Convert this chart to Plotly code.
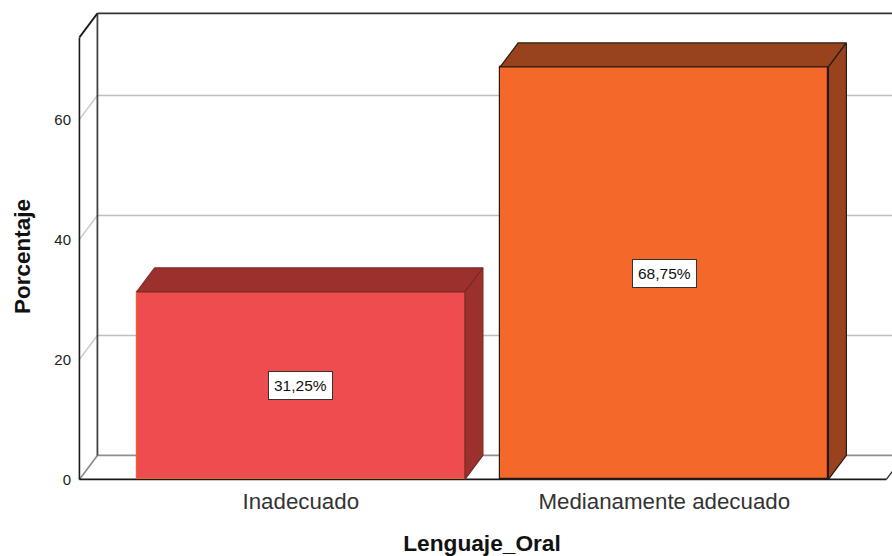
import plotly.graph_objects as go

categories = ["Inadecuado", "Medianamente adecuado"]
percentages = [31.25, 68.75]
y_ticks = [0, 20, 40, 60]
front_colors = ["#EE4C4E", "#F4682A"]
top_colors = ["#9B302D", "#98431E"]
edge_colors = ["#E8652F", "#2A1A10"]

BAR_W = 0.903
DX = 0.0495
DY = 4.0
FRONT_TOP = 73.67
RIGHT_END = 1.611
X0 = -0.609
L, R, T, B = 72, 0, 5, 70
PX_X = 363.5
ZERO_PX = 479.4
xr = [(L - 300.8) / PX_X, (892 - 300.8) / PX_X]
yr = [(ZERO_PX - (556 - B)) / 6.0, (ZERO_PX - T) / 6.0]

fig = go.Figure()


def seg(x0, y0, x1, y1, color, width):
    fig.add_shape(type="line", xref="x", yref="y", x0=x0, y0=y0, x1=x1, y1=y1,
                  line=dict(color=color, width=width), layer="below")


# gridlines on the back wall and left wall
for t in y_ticks[1:]:
    seg(X0, t, X0 + DX, t + DY, "#C8C8C8", 1.5)
    seg(X0 + DX, t + DY, xr[1] + 0.1, t + DY, "#C0C0C0", 1.5)
# floor
seg(X0, 0, X0 + DX, DY, "#8A8A8A", 1.6)
seg(X0 + DX, DY, xr[1] + 0.1, DY, "#8F8F8F", 1.8)
seg(RIGHT_END, 0, RIGHT_END + DX, DY, "#333333", 1.4)
seg(X0, 0, RIGHT_END, 0, "#1A1A1A", 1.6)
# walls
seg(X0 + DX, DY, X0 + DX, FRONT_TOP + DY, "#444444", 1.8)
seg(X0, 0, X0, FRONT_TOP, "#1A1A1A", 1.6)
seg(X0, FRONT_TOP, X0 + DX, FRONT_TOP + DY, "#1A1A1A", 1.8)
seg(X0 + DX, FRONT_TOP + DY, xr[1] + 0.1, FRONT_TOP + DY, "#333333", 1.8)

xpos = list(range(len(categories)))
fig.add_trace(go.Bar(x=xpos, y=percentages, width=BAR_W, marker=dict(
    color=front_colors, line=dict(color=edge_colors, width=1.2)), showlegend=False, hoverinfo="skip"))

for i, v in enumerate(percentages):
    a, b = i - BAR_W / 2, i + BAR_W / 2
    line = dict(color="#2A1A10" if i else "#7A2A26", width=1.2)
    fig.add_trace(go.Scatter(x=[a, b, b + DX, a + DX, a], y=[v, v, v + DY, v + DY, v],
                             fill="toself", fillcolor=top_colors[i], mode="lines", line=line,
                             showlegend=False, hoverinfo="skip"))
    fig.add_trace(go.Scatter(x=[b, b + DX, b + DX, b, b], y=[0, DY, v + DY, v, 0],
                             fill="toself", fillcolor=top_colors[i], mode="lines", line=line,
                             showlegend=False, hoverinfo="skip"))
    fig.add_annotation(x=i, y=v / 2, text=f"{v:.2f}%".replace(".", ","), showarrow=False,
                       font=dict(family="Liberation Sans", size=15.5, color="#111111"),
                       bgcolor="white", bordercolor="#333333", borderwidth=1, borderpad=5)

fig.add_annotation(xref="paper", yref="paper", x=(22 - L) / (892 - L - R), y=(556 - B - 257) / (556 - T - B),
                   xanchor="center", yanchor="middle",
                   text="<b>Porcentaje</b>", textangle=-90, showarrow=False,
                   font=dict(family="Liberation Sans", size=22.5, color="#111111"))

fig.update_layout(
    width=892, height=556, autosize=False, margin=dict(l=L, r=R, t=T, b=B),
    paper_bgcolor="white", plot_bgcolor="white", bargap=0,
    font=dict(family="Liberation Sans"),
    xaxis=dict(range=xr, tickmode="array", tickvals=xpos, ticktext=categories, showgrid=False,
               zeroline=False, showline=False, ticks="", tickfont=dict(size=22.3, color="#333333"),
               title=dict(text="<b>Lenguaje_Oral</b>", font=dict(size=22.7, color="#111111"), standoff=24)),
    yaxis=dict(range=yr, tickmode="array", tickvals=y_ticks, showgrid=False, zeroline=False,
               showline=False, ticks="", tickfont=dict(size=15, color="#222222")),
)
fig.write_html("out.html", config=dict(displayModeBar=False),
               post_script="document.body.style.margin='0';")
